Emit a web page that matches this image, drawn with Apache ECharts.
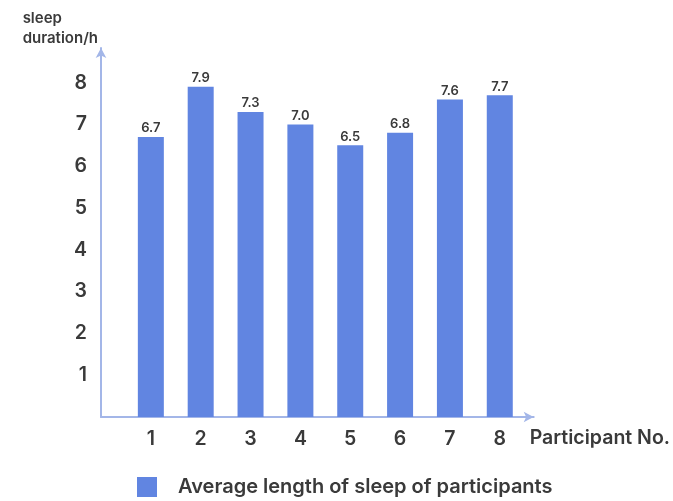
<!DOCTYPE html>
<html>
<head>
<meta charset="utf-8">
<script src="https://cdn.jsdelivr.net/npm/echarts@6/dist/echarts.min.js"></script>
<style>html,body{margin:0;padding:0;background:#fff}#c{width:673px;height:501px}</style>
</head>
<body>
<div id="c"></div>
<script>
const participants = [1, 2, 3, 4, 5, 6, 7, 8];
const sleepHours = [6.7, 7.9, 7.3, 7.0, 6.5, 6.8, 7.6, 7.7];
const seriesName = 'Average length of sleep of participants';
const xAxisName = 'Participant No.';
const yAxisNameLines = ['sleep', 'duration/h'];

const FONT = 'Inter';
const TEXT = '#3a3a3a';
const AXIS = '#a3b6e8';
const BAR = '#6185e1';

const chart = echarts.init(document.getElementById('c'), null, {renderer: 'canvas'});
chart.setOption({
  animation: false,
  backgroundColor: '#fff',
  textStyle: {fontFamily: FONT},
  grid: {left: 101, right: 138, top: 48, bottom: 84, containLabel: false},
  legend: {
    left: 132, top: 472,
    icon: 'rect', itemWidth: 20, itemHeight: 20,
    textStyle: {fontFamily: FONT, fontSize: 20, fontWeight: 600, color: TEXT, padding: [0, 0, 0, 16]},
    data: [seriesName]
  },
  xAxis: {
    type: 'value', min: 0, max: 8.68, interval: 1,
    name: xAxisName, nameLocation: 'end', nameGap: -4,
    nameTextStyle: {fontFamily: FONT, fontSize: 19.5, fontWeight: 600, color: TEXT, align: 'left', verticalAlign: 'top', padding: [11, 0, 0, 0]},
    axisLine: {show: true, lineStyle: {color: AXIS, width: 2}, symbol: ['none', 'arrow'], symbolSize: [8, 10]},
    axisTick: {show: false},
    splitLine: {show: false},
    axisLabel: {
      showMinLabel: false, showMaxLabel: false, margin: 12,
      fontFamily: FONT, fontSize: 19.5, fontWeight: 600, color: TEXT,
      formatter: v => (participants.indexOf(v) >= 0 ? String(v) : '')
    }
  },
  yAxis: {
    type: 'value', min: 0, max: 8.83, interval: 1,
    name: yAxisNameLines.map(s => '{a|' + s + '}').join('\n'), nameLocation: 'end', nameGap: 0,
    nameTextStyle: {align: 'right', verticalAlign: 'bottom', padding: [0, 3, 0, 0],
      rich: {a: {align: 'left', fontFamily: FONT, fontSize: 15, fontWeight: 600, color: TEXT, lineHeight: 20}}},
    axisLine: {show: true, lineStyle: {color: AXIS, width: 2}, symbol: ['none', 'arrow'], symbolSize: [8, 10]},
    axisTick: {show: false},
    splitLine: {show: false},
    axisLabel: {
      showMinLabel: false, showMaxLabel: false, margin: 14,
      fontFamily: FONT, fontSize: 19.5, fontWeight: 600, color: TEXT
    }
  },
  series: [{
    name: seriesName,
    type: 'bar',
    barWidth: 26,
    itemStyle: {color: BAR},
    label: {show: true, position: 'top', distance: 2, fontFamily: FONT, fontSize: 13, fontWeight: 600, color: TEXT,
      formatter: p => p.value[1].toFixed(1)},
    data: participants.map((p, i) => [p, sleepHours[i]])
  }]
});
</script>
</body>
</html>
